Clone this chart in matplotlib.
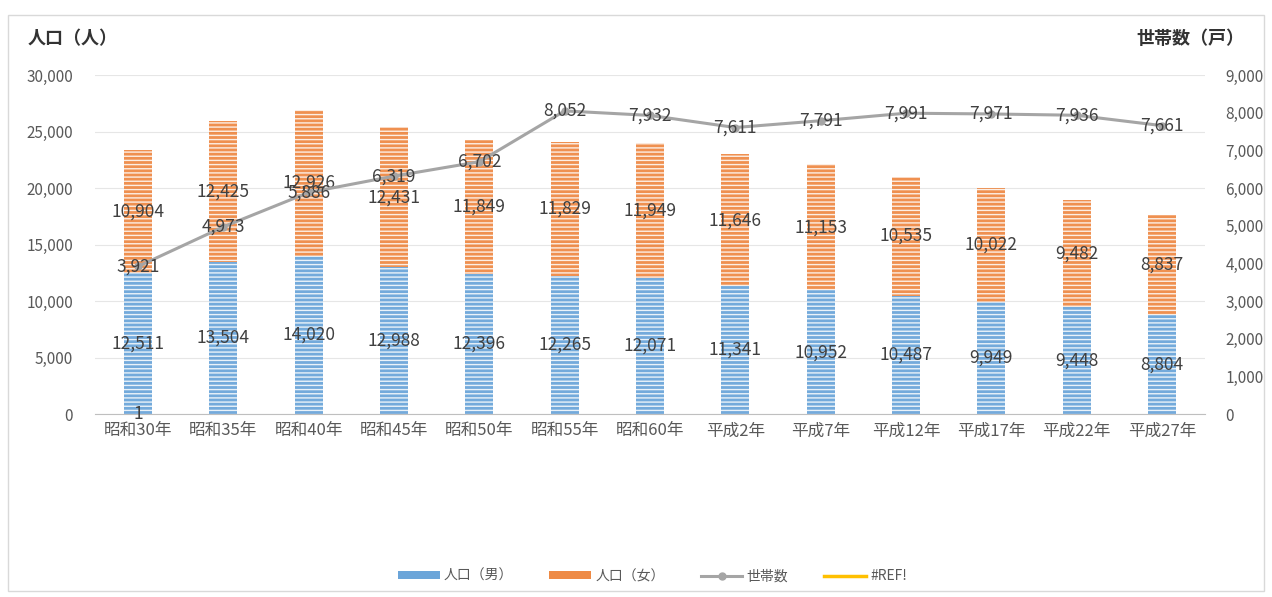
import matplotlib.pyplot as plt
from matplotlib.ticker import FuncFormatter
from matplotlib.patches import Patch
import numpy as np

plt.rcParams['font.family'] = ['Noto Sans CJK JP', 'DejaVu Sans']
plt.rcParams['hatch.color'] = 'white'
plt.rcParams['hatch.linewidth'] = 1.0

years = ['昭和30年', '昭和35年', '昭和40年', '昭和45年', '昭和50年', '昭和55年', '昭和60年',
         '平成2年', '平成7年', '平成12年', '平成17年', '平成22年', '平成27年']
male = [12511, 13504, 14020, 12988, 12396, 12265, 12071, 11341, 10952, 10487, 9949, 9448, 8804]
female = [10904, 12425, 12926, 12431, 11849, 11829, 11949, 11646, 11153, 10535, 10022, 9482, 8837]
households = [3921, 4973, 5886, 6319, 6702, 8052, 7932, 7611, 7791, 7991, 7971, 7936, 7661]

blue = '#5B9BD5'
orange = '#ED7D31'
gray = '#A5A5A5'
label_c = '#404040'
tick_c = '#595959'

fig = plt.figure(figsize=(12.72, 5.97), dpi=100)
ax = fig.add_axes([0.075, 0.3065, 0.872, 0.5675])
ax2 = ax.twinx()
ax.set_zorder(1)
ax2.set_zorder(2)
ax.patch.set_visible(False)

x = np.arange(len(years))
w = 0.33
ax.bar(x, male, w, color=blue, hatch='----', edgecolor='white', linewidth=0, alpha=0.85)
ax.bar(x, female, w, bottom=male, color=orange, hatch='----', edgecolor='white', linewidth=0, alpha=0.85)

for i in range(len(years)):
    ax.text(x[i], male[i] / 2, f'{male[i]:,}', ha='center', va='center', fontsize=12.5, color=label_c)
    ax.text(x[i], male[i] + female[i] / 2, f'{female[i]:,}', ha='center', va='center', fontsize=12.5, color=label_c)
ax.text(x[0], 0, '1', ha='center', va='center', fontsize=12.5, color=label_c)

ln, = ax2.plot(x, households, color=gray, lw=2.2, marker='o', markersize=5)
for i in range(len(years)):
    ax2.text(x[i], households[i], f'{households[i]:,}', ha='center', va='center', fontsize=12.5, color=label_c)

ax.set_xlim(-0.5, len(years) - 0.5)
ax.set_ylim(0, 30000)
ax2.set_ylim(0, 9000)
ax.set_yticks(range(0, 30001, 5000))
ax2.set_yticks(range(0, 9001, 1000))
fmt = FuncFormatter(lambda v, p: f'{int(v):,}')
ax.yaxis.set_major_formatter(fmt)
ax2.yaxis.set_major_formatter(fmt)
ax.set_xticks(x)
ax.set_xticklabels(years, fontsize=12, color=tick_c)
ax.tick_params(axis='y', labelsize=11, colors=tick_c, length=0, pad=16)
ax2.tick_params(axis='y', labelsize=11, colors=tick_c, length=0, pad=15)
ax.tick_params(axis='x', length=0, pad=6)
ax.grid(axis='y', color='#E6E6E6', lw=0.8)
ax.set_axisbelow(True)
for a in (ax, ax2):
    for s in ('top', 'left', 'right'):
        a.spines[s].set_visible(False)
ax.spines['bottom'].set_color('#BFBFBF')
ax2.spines['bottom'].set_visible(False)

fig.text(0.022, 0.935, '人口（人）', fontsize=13, fontweight='bold', color='#333333', va='center')
fig.text(0.978, 0.935, '世帯数（戸）', fontsize=13, fontweight='bold', color='#333333', va='center', ha='right')

ref, = ax2.plot([], [], color='#FFC000', lw=2.5)
handles = [Patch(facecolor=blue, alpha=0.9), Patch(facecolor=orange, alpha=0.9), ln, ref]
leg = fig.legend(handles, ['人口（男）', '人口（女）', '世帯数', '#REF!'],
                 loc='center', bbox_to_anchor=(0.513, 0.035), ncol=4, frameon=False,
                 fontsize=10, handlelength=3.0, handleheight=0.5, handletextpad=0.3,
                 columnspacing=2.6)
for t in leg.get_texts():
    t.set_color(tick_c)

fig.patches.append(plt.Rectangle((0.006, 0.01), 0.988, 0.965, transform=fig.transFigure,
                                 fill=False, edgecolor='#D9D9D9', lw=1))

fig.savefig('out.png', dpi=100)
